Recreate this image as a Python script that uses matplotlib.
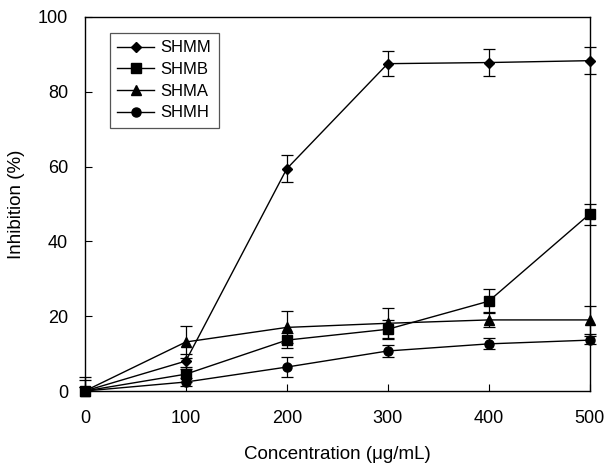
import matplotlib.pyplot as plt
from matplotlib.lines import Line2D
from matplotlib.transforms import Bbox, TransformedBbox

plt.rcParams['font.family'] = ['Liberation Sans', 'DejaVu Sans']

conc = [0, 100, 200, 300, 400, 500]

shmm = [0, 8.0, 59.4, 87.5, 87.8, 88.3]
shmm_err = [1.0, 2.0, 3.6, 3.3, 3.5, 3.6]
shmb = [0, 4.5, 13.6, 16.5, 24.0, 47.3]
shmb_err = [3.0, 2.0, 2.0, 2.5, 3.2, 2.8]
shma = [0, 13.1, 17.0, 18.1, 19.0, 19.0]
shma_err = [3.7, 4.2, 4.3, 4.0, 2.0, 3.8]
shmh = [0, 2.4, 6.4, 10.7, 12.6, 13.6]
shmh_err = [1.0, 1.0, 2.7, 1.5, 1.5, 1.0]

fig = plt.figure(figsize=(6.06, 4.63), dpi=100)
ax = fig.add_axes([0.140, 0.1555, 0.833, 0.808])

# error bars may spill past the left/right edges but not below y=0
clip = TransformedBbox(Bbox([[-0.1, 0], [1.1, 1.1]]), ax.transAxes)

series = [
    ("SHMM", shmm, shmm_err, "D", 5),
    ("SHMA", shma, shma_err, "^", 6.5),
    ("SHMH", shmh, shmh_err, "o", 6.5),
    ("SHMB", shmb, shmb_err, "s", 6.5),
]
handles = {}
for name, vals, err, mk, ms in series:
    eb = ax.errorbar(conc, vals, yerr=err, color="black", lw=1, marker=mk, ms=ms,
                     capsize=4, elinewidth=0.9, capthick=0.9)
    eb.lines[0].set_clip_on(False)
    for art in list(eb.lines[1]) + list(eb.lines[2]):
        art.set_clip_box(clip)
    handles[name] = Line2D([], [], color="black", lw=1, marker=mk, ms=ms)

order = ["SHMM", "SHMB", "SHMA", "SHMH"]
leg = ax.legend([handles[n] for n in order], order, loc="upper left",
                bbox_to_anchor=(0.0495, 0.957), borderaxespad=0, fontsize=12,
                fancybox=False, edgecolor="#555555", framealpha=1, borderpad=0.45,
                handlelength=2.2, handletextpad=0.4, labelspacing=0.4)
leg.get_frame().set_linewidth(0.9)

ax.set_xlim(0, 500)
ax.set_ylim(0, 100)
ax.set_xticks(conc)
ax.set_yticks([0, 20, 40, 60, 80, 100])
ax.tick_params(direction="in", length=5, labelsize=13)
ax.tick_params(axis="x", pad=14)
ax.tick_params(axis="y", pad=12)
for s in ax.spines.values():
    s.set_linewidth(1)

ax.set_xlabel("Concentration (μg/mL)", fontsize=13.5, labelpad=13)
ax.set_ylabel("Inhibition (%)", fontsize=13.5, labelpad=9)

plt.savefig("out.png", dpi=100)
